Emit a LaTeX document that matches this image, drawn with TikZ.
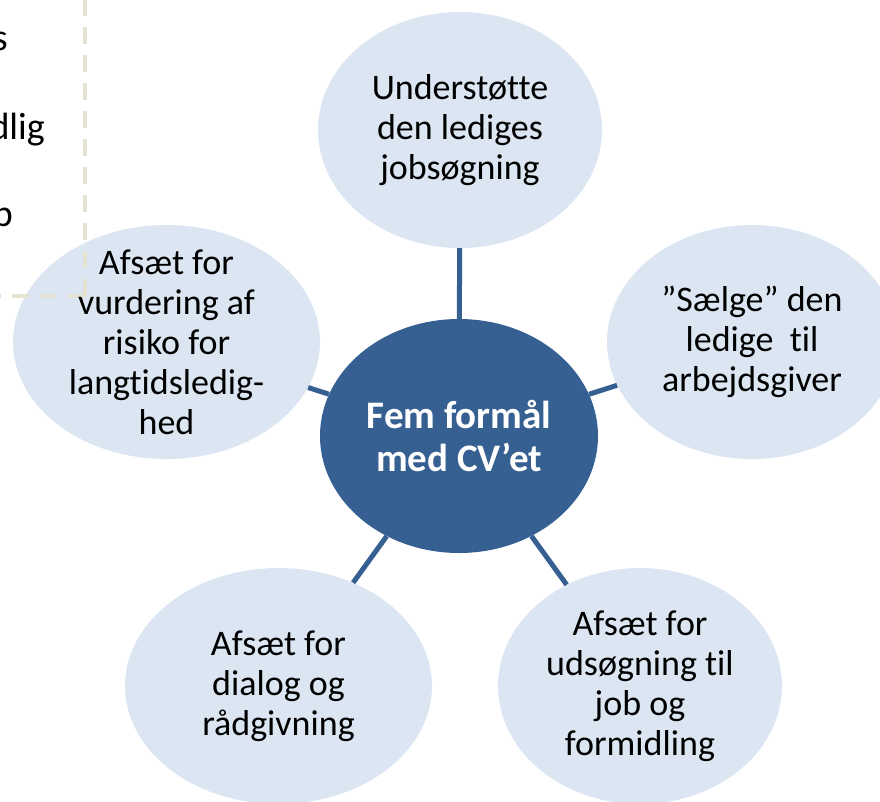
\documentclass[tikz,border=0pt]{standalone}
\usepackage{fontspec}
\setmainfont{Carlito}[Ligatures=NoCommon]
\usetikzlibrary{shapes.geometric}
\definecolor{satfill}{HTML}{DCE6F2}
\definecolor{hubfill}{HTML}{376092}
\definecolor{dashcol}{HTML}{E6E2D2}
\begin{document}
\begin{tikzpicture}[x=1pt,y=-1pt,
  sat/.style={ellipse, fill=satfill, inner sep=0pt},
  sattext/.style={align=center, inner sep=0pt, font=\fontsize{36}{40}\selectfont},
  hub/.style={ellipse, fill=hubfill, minimum width=278pt, minimum height=234pt, inner sep=0pt},
  hubtext/.style={align=center, inner sep=0pt, text=white, font=\fontsize{39}{43}\selectfont\bfseries},
  link/.style={draw=hubfill, line width=5pt},
  dashline/.style={draw=dashcol, line width=3.5pt, dash pattern=on 17pt off 11pt},
  boxtext/.style={anchor=base east, inner sep=0pt, font=\fontsize{38}{46}\selectfont}]
\useasboundingbox (0,0) rectangle (880,801);
\clip (0,0) rectangle (880,801);
% ellipses
\node[hub] (hub) at (459,436) {};
\node[sat, minimum width=284pt, minimum height=236pt] (t) at (460,130) {};
\node[sat, minimum width=290pt, minimum height=234pt] (r) at (752,342) {};
\node[sat, minimum width=284pt, minimum height=236pt] (br) at (640,686) {};
\node[sat, minimum width=307pt, minimum height=236pt] (bl) at (278.5,686) {};
\node[sat, minimum width=307pt, minimum height=234pt] (l) at (166.5,342) {};
% connectors
\draw[link] (hub) -- (t);
\draw[link] (hub) -- (r);
\draw[link] (hub) -- (br);
\draw[link] (hub) -- (bl);
\draw[link] (hub) -- (l);
% dashed box (partly outside the picture)
\coordinate (corner) at (85,296);
\coordinate (boxtop) at (85,-5);
\coordinate (boxleft) at (-5,296);
\draw[dashline] (corner) -- (boxtop);
\draw[dashline] (corner) -- (boxleft);
\node[boxtext] (b1) at (8,50) {s};
\node[boxtext] (b2) at (45,139) {dlig};
\node[boxtext] (b3) at (13,226) {p};
% texts
\node[hubtext] (hubt) at (hub) {Fem formål\\med CV’et};
\node[sattext] (tt) at (t) {Understøtte\\den lediges\\jobsøgning};
\node[sattext] (rt) at (r) {”Sælge” den\\ledige\ \ til\\arbejdsgiver};
\node[sattext] (brt) at (br) {Afsæt for\\udsøgning til\\job og\\formidling};
\node[sattext] (blt) at (bl) {Afsæt for\\dialog og\\rådgivning};
\node[sattext] (lt) at (l) {Afsæt for\\vurdering af\\risiko for\\langtidsledig-\\hed};
\end{tikzpicture}
\end{document}
